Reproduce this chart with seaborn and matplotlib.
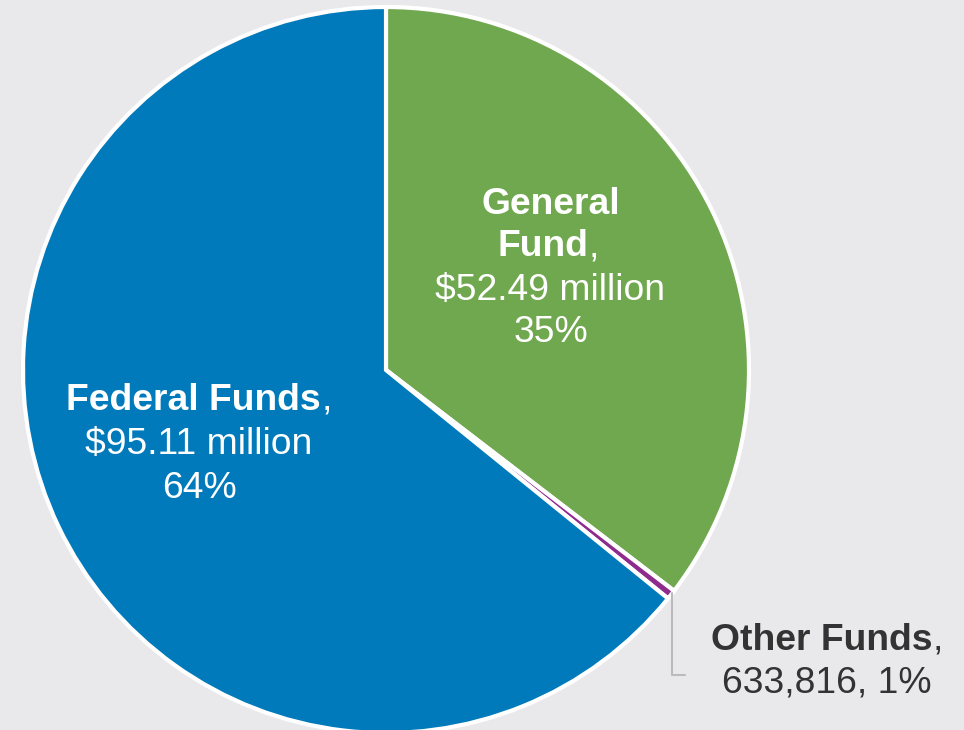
import matplotlib
matplotlib.use("Agg")
import matplotlib.pyplot as plt
import seaborn as sns

# === DATOS ===
fondos = ["General Fund", "Other Funds", "Federal Funds"]
montos = [52.49, 0.633816, 95.11]   # millones
colores = ["#70A84F", "#8E2C8E", "#007ABA"]

sns.set_style("white")
plt.rcParams["font.family"] = ["Liberation Sans", "DejaVu Sans"]

W, H = 964, 730
FS = 26.8
DY = 3  # ajuste vertical de las etiquetas
fig = plt.figure(figsize=(W / 100, H / 100), dpi=100)
fig.patch.set_facecolor("#E9E9EB")
ax = fig.add_axes([0, 0, 1, 1])
ax.set_facecolor("#E9E9EB")

ax.pie(montos, colors=colores, startangle=90, counterclock=False,
       radius=363, center=(386, H - 370),
       wedgeprops=dict(edgecolor="white", linewidth=3))
ax.set_xlim(0, W)
ax.set_ylim(0, H)
ax.set_aspect("equal")
ax.axis("off")

fig.canvas.draw()
rend = fig.canvas.get_renderer()


def linea(x, y, negrita, resto="", color="white", size=FS):
    # texto en negrita + coma normal, centrado como una sola línea
    t1 = ax.text(0, H - y - DY, negrita, fontsize=size, fontweight="bold",
                 color=color, ha="left", va="center")
    w1 = t1.get_window_extent(rend).width
    w2 = 0
    if resto:
        t2 = ax.text(0, H - y - DY, resto, fontsize=size, color=color,
                     ha="left", va="center")
        w2 = t2.get_window_extent(rend).width
    x0 = x - (w1 + w2) / 2
    t1.set_x(x0)
    if resto:
        t2.set_x(x0 + w1)


def normal(x, y, s, color="white"):
    ax.text(x, H - y - DY, s, fontsize=FS, color=color, ha="center", va="center")


# General Fund
linea(551, 202, "General")
linea(548, 244, "Fund", ",")
normal(550, 288, "$%.2f million" % montos[0])
normal(551, 330, "35%")

# Federal Funds
linea(199, 397, "Federal Funds", ",")
normal(199, 441, "$%.2f million" % montos[2])
normal(200, 485, "64%")

# Other Funds (fuera del pastel con línea guía)
linea(827, 637, "Other Funds", ",", color="#333333")
normal(827, 680, "{:,.0f}, 1%".format(montos[1] * 1e6), color="#333333")
ax.plot([672, 672, 685], [H - 593, H - 675, H - 675], color="#BBBBBB", lw=1.5)

fig.savefig("out.png", dpi=100, facecolor=fig.get_facecolor())
